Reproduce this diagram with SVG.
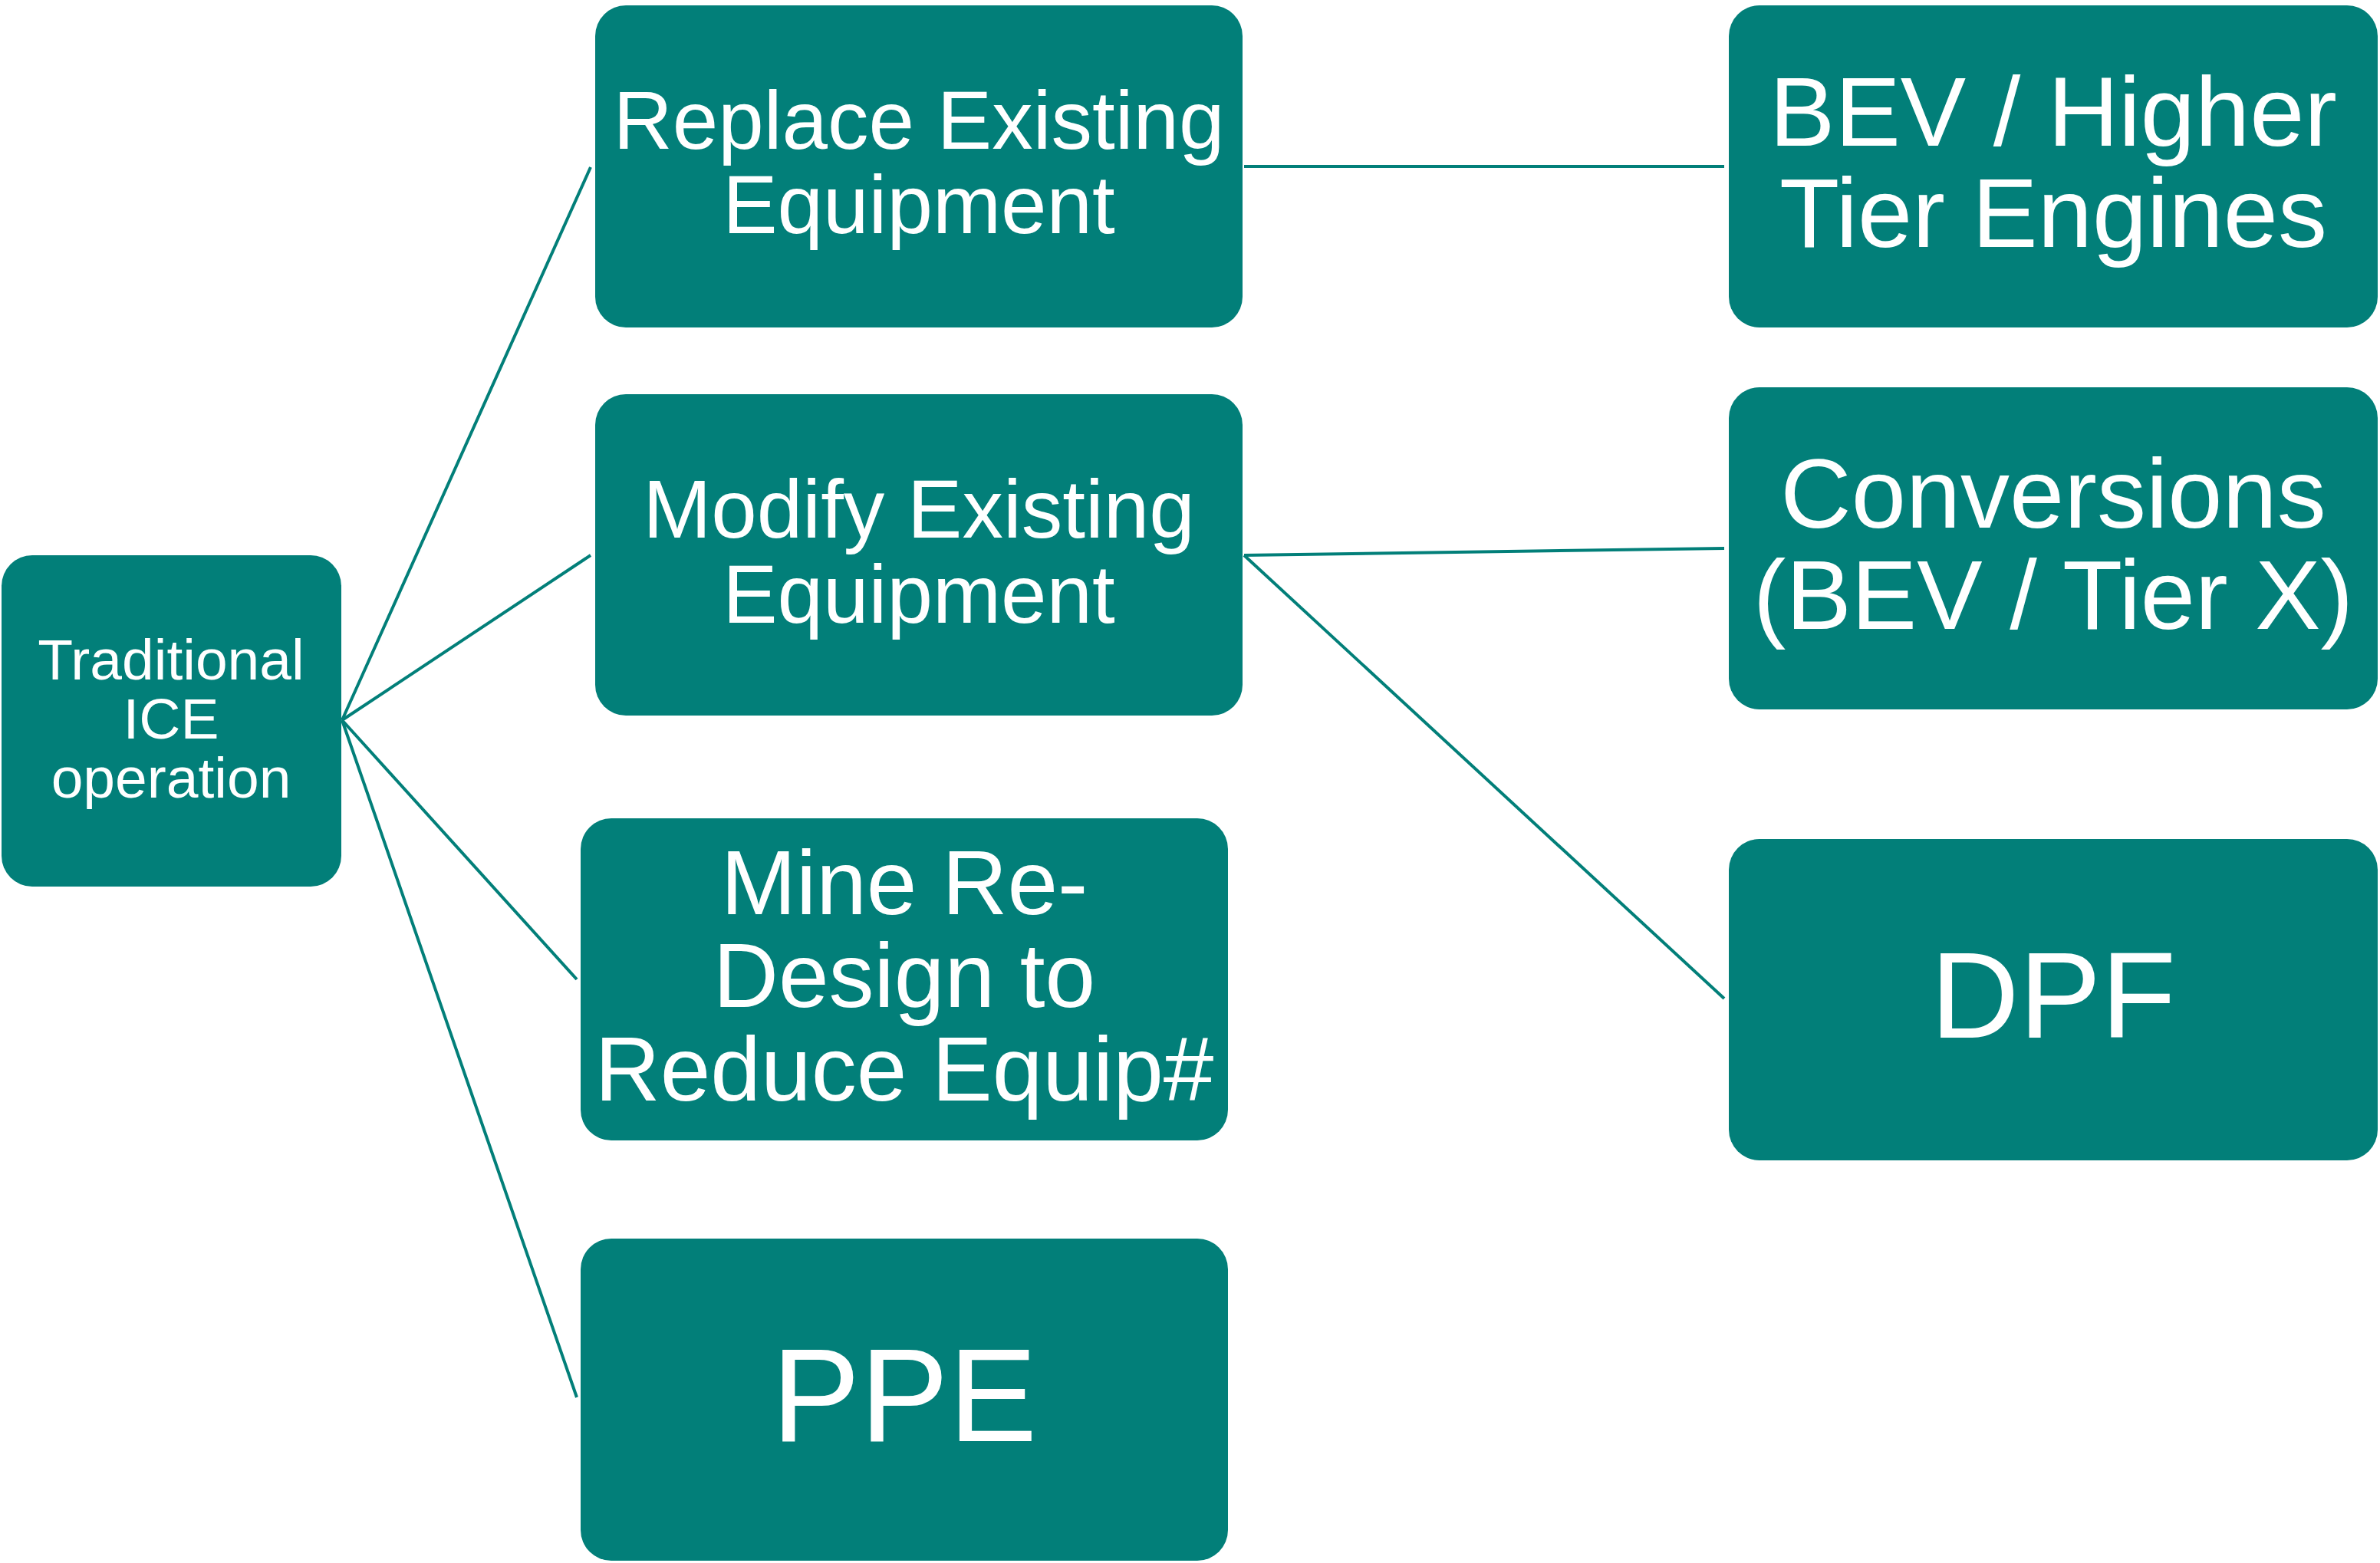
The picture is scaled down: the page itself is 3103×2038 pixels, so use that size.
<svg xmlns="http://www.w3.org/2000/svg" width="3103" height="2038" viewBox="0 0 3103 2038">
  <style>
    .box { fill: #027F79; }
    .lbl { fill: #FFFFFF; font-family: "Liberation Sans", Arial, sans-serif; text-anchor: middle; }
    .conn { stroke: #027F79; stroke-width: 4; fill: none; }
  </style>
  <rect width="3103" height="2038" fill="#FFFFFF"/>

  <!-- connectors -->
  <g id="connectors" class="conn">
    <line x1="446" y1="939" x2="770" y2="218"/>
    <line x1="446" y1="939" x2="770" y2="724"/>
    <line x1="446" y1="939" x2="752" y2="1277"/>
    <line x1="446" y1="939" x2="752" y2="1822"/>
    <line x1="1622" y1="217" x2="2248" y2="217"/>
    <line x1="1622" y1="724" x2="2248" y2="715"/>
    <line x1="1622" y1="724" x2="2248" y2="1302"/>
  </g>

  <!-- root -->
  <g id="node-traditional">
    <rect class="box" x="2" y="724" width="443" height="432" rx="40" ry="40"/>
    <g class="lbl" font-size="75">
      <text x="223" y="886">Traditional</text>
      <text x="223" y="963">ICE</text>
      <text x="223" y="1040">operation</text>
    </g>
  </g>

  <!-- second level -->
  <g id="node-replace">
    <rect class="box" x="776" y="7" width="844" height="420" rx="40" ry="40"/>
    <g class="lbl" font-size="107">
      <text x="1198" y="194">Replace Existing</text>
      <text x="1198" y="304">Equipment</text>
    </g>
  </g>

  <g id="node-modify">
    <rect class="box" x="776" y="514" width="844" height="419" rx="40" ry="40"/>
    <g class="lbl" font-size="107">
      <text x="1198" y="701">Modify Existing</text>
      <text x="1198" y="812">Equipment</text>
    </g>
  </g>

  <g id="node-redesign">
    <rect class="box" x="757" y="1067" width="844" height="420" rx="40" ry="40"/>
    <g class="lbl" font-size="118">
      <text x="1179" y="1192">Mine Re-</text>
      <text x="1179" y="1313">Design to</text>
      <text x="1179" y="1435">Reduce Equip#</text>
    </g>
  </g>

  <g id="node-ppe">
    <rect class="box" x="757" y="1615" width="844" height="420" rx="40" ry="40"/>
    <text class="lbl" font-size="173" x="1179" y="1879">PPE</text>
  </g>

  <!-- third level -->
  <g id="node-bev">
    <rect class="box" x="2254" y="7" width="846" height="420" rx="40" ry="40"/>
    <g class="lbl" font-size="128">
      <text x="2677" y="190">BEV / Higher</text>
      <text x="2677" y="322">Tier Engines</text>
    </g>
  </g>

  <g id="node-conversions">
    <rect class="box" x="2254" y="505" width="846" height="420" rx="40" ry="40"/>
    <g class="lbl" font-size="128">
      <text x="2677" y="688">Conversions</text>
      <text x="2677" y="820">(BEV / Tier X)</text>
    </g>
  </g>

  <g id="node-dpf">
    <rect class="box" x="2254" y="1094" width="846" height="419" rx="40" ry="40"/>
    <text class="lbl" font-size="160" x="2677" y="1353">DPF</text>
  </g>
</svg>
